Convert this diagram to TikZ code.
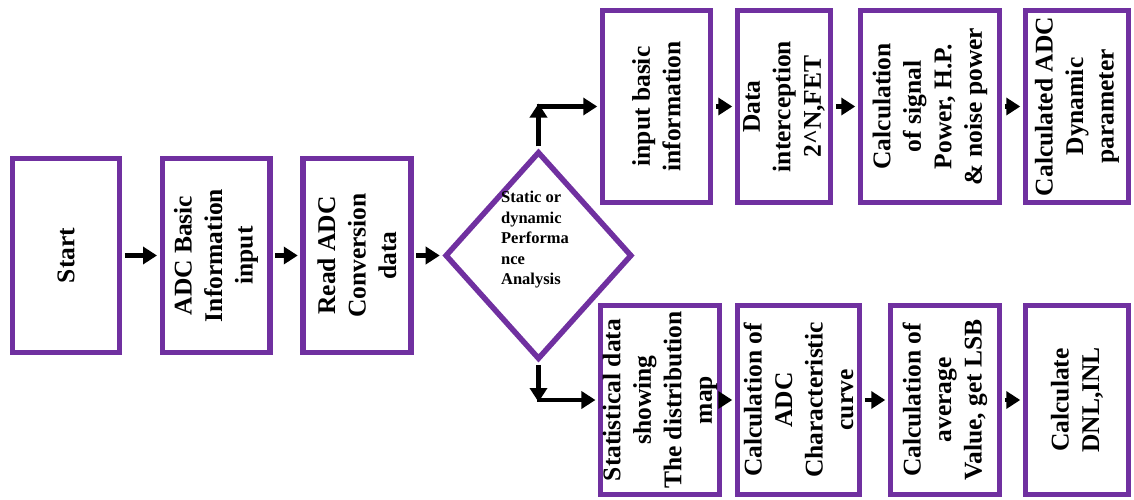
\documentclass[tikz,border=0pt]{standalone}
\usepackage{fontspec}
\setmainfont{Liberation Serif}
\usepackage{tikz}
\usetikzlibrary{shapes,arrows.meta}

\definecolor{boxpurple}{RGB}{112,48,160}

\begin{document}
\begin{tikzpicture}[>={Triangle[length=14pt,width=17pt]},
	box/.style={draw=boxpurple, line width=5.5pt, rectangle, rotate=90, align=center, inner sep=2pt, font=\fontsize{25.5}{30.5}\selectfont\bfseries},
	flow/.style={->, line width=4.5pt, shorten >=2.5pt, shorten <=2.5pt}]
	\useasboundingbox (0pt,0pt) rectangle (1134pt,-499pt);
	% boxes are rotated, so minimum width is the upright size
	\node [box, minimum width=194pt, minimum height=107pt] (start) at (66pt,-255.5pt) {Start};
	\node [box, minimum width=194pt, minimum height=107.5pt] (adcinfo) at (216pt,-255.5pt) {ADC Basic\\Information\\input};
	\node [box, minimum width=194pt, minimum height=108pt] (readadc) at (357pt,-255.5pt) {Read ADC\\Conversion\\data};
	\node [draw=boxpurple, line width=5.5pt, diamond, minimum width=187pt, minimum height=208pt, inner sep=0pt] (decide) at (538.5pt,-255.5pt) {};
	\node [align=left, font=\fontsize{16.5}{20.5}\selectfont\bfseries] (decidetext) at (535pt,-240pt) {Static or\\dynamic\\Performa\\nce\\Analysis};
	% dynamic branch
	\node [box, minimum width=192pt, minimum height=108pt] (inbasic) at (656.5pt,-106.5pt) {input basic\\information};
	\node [box, minimum width=192pt, minimum height=93pt] (intercept) at (784pt,-106.5pt) {Data\\interception\\2\textasciicircum N,FET};
	\node [box, minimum width=192pt, minimum height=139pt] (sigpower) at (930pt,-106.5pt) {Calculation\\of signal\\Power, H.P.\\\& noise power};
	\node [box, minimum width=192pt, minimum height=103pt] (dynparam) at (1077pt,-106.5pt) {Calculated ADC\\Dynamic\\parameter};
	% static branch
	\node [box, minimum width=189pt, minimum height=115pt] (statdata) at (660pt,-400pt) {Statistical data\\showing\\The distribution\\map};
	\node [box, minimum width=189pt, minimum height=122pt] (charcurve) at (798.5pt,-400pt) {Calculation of\\ADC\\Characteristic\\curve};
	\node [box, minimum width=189pt, minimum height=109pt] (average) at (945pt,-400pt) {Calculation of\\average\\Value, get LSB};
	\node [box, minimum width=189pt, minimum height=103pt] (dnlinl) at (1077pt,-400pt) {Calculate\\DNL,INL};
	\coordinate (upturn) at (decide.north |- inbasic);
	\coordinate (downturn) at (decide.south |- statdata);
	\draw [flow] (start) -- (adcinfo);
	\draw [flow] (adcinfo) -- (readadc);
	\draw [flow] (readadc) -- (decide);
	\draw [flow, shorten >=-3pt] (decide.north) -- (upturn);
	\draw [flow, shorten <=-2pt] (upturn) -- (inbasic);
	\draw [flow] (inbasic) -- (intercept);
	\draw [flow] (intercept) -- (sigpower);
	\draw [flow] (sigpower) -- (dynparam);
	\draw [flow, shorten >=-2pt] (decide.south) -- (downturn);
	\draw [flow, shorten <=-2pt] (downturn) -- (statdata);
	\draw [flow] (statdata) -- (charcurve);
	\draw [flow] (charcurve) -- (average);
	\draw [flow] (average) -- (dnlinl);
\end{tikzpicture}
\end{document}
